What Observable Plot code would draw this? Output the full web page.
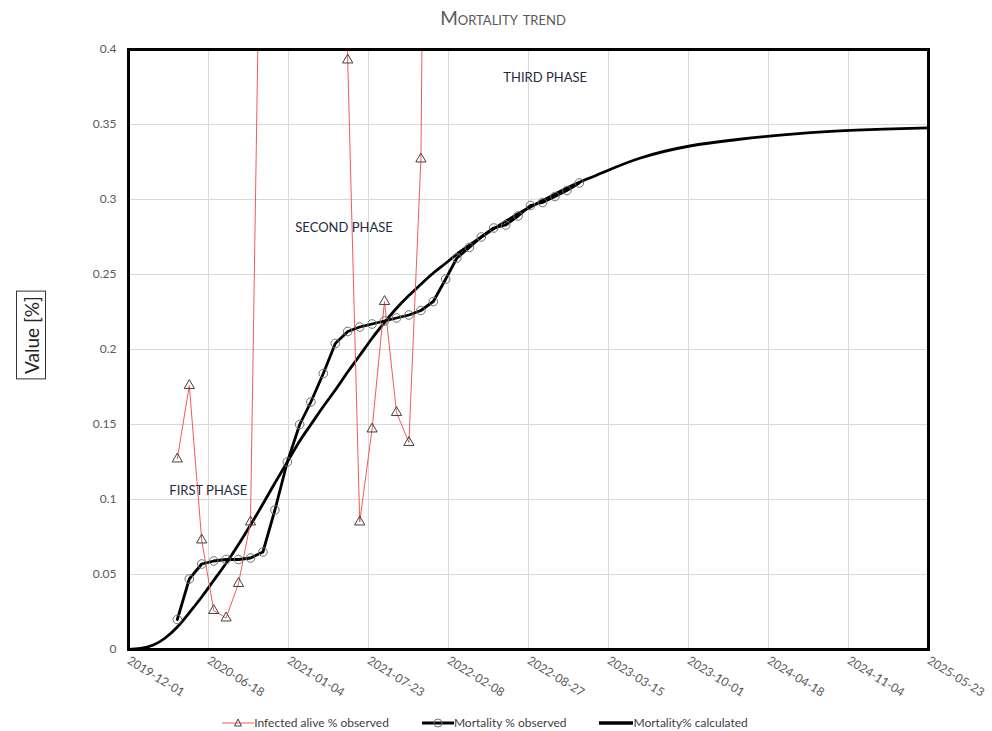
<!DOCTYPE html>
<html><head><meta charset="utf-8">
<script src="https://cdn.jsdelivr.net/npm/d3@7"></script>
<script src="https://cdn.jsdelivr.net/npm/@observablehq/plot@0.6"></script>
<style>
body{margin:0;background:#fff;font-family:Lato,"Open Sans",sans-serif;}
#wrap{width:992px;height:731px;position:relative;overflow:hidden;background:#fff}
#title{height:36px;line-height:36px;text-align:center;font-variant:small-caps;font-size:19px;color:#595959;padding-left:14px}
#chart svg{display:block}
#legend{position:absolute;left:0;top:715px;width:970px;display:flex;justify-content:center;gap:33px;font-size:12px;color:#404040}
#legend .it{display:flex;align-items:center}
#legend svg{display:block}
</style></head><body>
<div id="wrap"><div id="title">Mortality trend</div><div id="chart"></div><div id="legend"></div></div>
<script>
// ---- data ----
const xTickLabels = ["2019-12-01","2020-06-18","2021-01-04","2021-07-23","2022-02-08","2022-08-27","2023-03-15","2023-10-01","2024-04-18","2024-11-04","2025-05-23"];
const yTickValues = [0,0.05,0.1,0.15,0.2,0.25,0.3,0.35,0.4];
const yTickLabels = ["0","0.05","0.1","0.15","0.2","0.25","0.3","0.35","0.4"];

const mortalityDates = ["2020-04-01","2020-05-01","2020-06-01","2020-07-01","2020-08-01","2020-09-01","2020-10-01","2020-11-01","2020-12-01",
  "2021-01-01","2021-02-01","2021-03-01","2021-04-01","2021-05-01","2021-06-01","2021-07-01","2021-08-01","2021-09-01","2021-10-01","2021-11-01","2021-12-01",
  "2022-01-01","2022-02-01","2022-03-01","2022-04-01","2022-05-01","2022-06-01","2022-07-01","2022-08-01","2022-09-01","2022-10-01","2022-11-01","2022-12-01","2023-01-01"];
const mortalityObserved = [0.020,0.047,0.057,0.059,0.060,0.060,0.061,0.065,0.093,
  0.125,0.150,0.165,0.184,0.204,0.212,0.215,0.217,0.219,0.221,0.223,0.226,
  0.232,0.247,0.261,0.268,0.275,0.281,0.283,0.289,0.296,0.298,0.302,0.306,0.311];

const infectedDates = ["2020-04-01","2020-05-01","2020-06-01","2020-07-01","2020-08-01","2020-09-01","2020-10-01","2020-11-01",
  "2021-05-01","2021-06-01","2021-07-01","2021-08-01","2021-09-01","2021-10-01","2021-11-01","2021-12-01","2022-01-01"];
const infectedObserved = [0.127,0.176,0.073,0.026,0.021,0.044,0.085,0.62,
  0.90,0.393,0.085,0.147,0.232,0.158,0.138,0.327,1.20];

const calculatedDates = ["2019-12-01","2019-12-31","2020-02-01","2020-03-01","2020-04-01","2020-05-01","2020-06-01","2020-07-01","2020-08-01",
  "2020-09-01","2020-10-01","2020-11-01","2020-12-01","2021-01-01","2021-02-01","2021-03-01","2021-04-01","2021-05-01","2021-06-01",
  "2021-07-01","2021-08-01","2021-09-01","2021-10-01","2021-11-01","2021-12-01","2022-01-01","2022-02-01","2022-03-01","2022-04-01",
  "2022-05-01","2022-06-01","2022-07-01","2022-08-01","2022-09-01","2022-10-01","2022-11-01","2022-12-01","2023-01-01","2023-03-01",
  "2023-06-01","2023-10-01","2024-02-01","2024-06-01","2024-10-01","2025-02-01","2025-05-23"];
const calculatedValues = [0,0.0007,0.003,0.0075,0.015,0.0245,0.035,0.046,0.0575,
  0.070,0.083,0.097,0.111,0.125,0.139,0.150,0.162,0.173,0.185,
  0.196,0.2075,0.218,0.2275,0.236,0.2435,0.251,0.2575,0.2636,0.2695,
  0.275,0.2805,0.2855,0.2905,0.295,0.2993,0.3035,0.3077,0.3115,0.318,
  0.3275,0.3355,0.340,0.3433,0.3456,0.3469,0.3478];

const phaseLabels = ["FIRST PHASE","SECOND PHASE","THIRD PHASE"];
const phaseDates = ["2020-03-12","2021-01-21","2022-06-25"];
const phaseValues = [0.106,0.281,0.381];

const legendLabels = ["Infected alive % observed","Mortality % observed","Mortality% calculated"];

// ---- tables ----
const P = s => new Date(s);
const mort = mortalityDates.map((d,i)=>({date:P(d), v:mortalityObserved[i]}));
const inf = infectedDates.map((d,i)=>({date:P(d), v:infectedObserved[i]}));
const calc = calculatedDates.map((d,i)=>({date:P(d), v:calculatedValues[i]}));
const phases = phaseLabels.map((t,i)=>({t, date:P(phaseDates[i]), v:phaseValues[i]}));
const xTicks = xTickLabels.map(P);
const fmtX = d3.utcFormat("%Y-%m-%d");

const chart = Plot.plot({
  width: 992, height: 670,
  marginLeft: 128, marginRight: 64, marginTop: 13, marginBottom: 57,
  style: {fontFamily: "Lato, 'Open Sans', sans-serif", fontSize: "12px", background: "#fff"},
  x: {type: "utc", domain: [xTicks[0], xTicks[xTicks.length-1]]},
  y: {domain: [0, 0.4]},
  marks: [
    Plot.gridX(xTicks, {stroke: "#d9d9d9", strokeOpacity: 1}),
    Plot.gridY(yTickValues, {stroke: "#d9d9d9", strokeOpacity: 1}),
    Plot.axisY({ticks: yTickValues, tickFormat: (d,i)=>yTickLabels[i], tickSize: 0, tickPadding: 12, color: "#595959", label: null}),
    Plot.axisX({ticks: xTicks, tickFormat: fmtX, tickSize: 0, tickPadding: 10, tickRotate: 32, textAnchor: "start", color: "#595959", label: null}),
    Plot.line(calc, {x: "date", y: "v", stroke: "black", strokeWidth: 2.8, curve: "natural", clip: true}),
    Plot.line(inf, {x: "date", y: "v", stroke: "#f25a5a", strokeWidth: 1, clip: true}),
    Plot.dot(inf, {x: "date", y: "v", symbol: "triangle", r: 3.8, stroke: "#404040", strokeWidth: 1, fill: "none", clip: true}),
    Plot.line(mort, {x: "date", y: "v", stroke: "black", strokeWidth: 2.8}),
    Plot.dot(mort, {x: "date", y: "v", symbol: "circle", r: 4.3, stroke: "#707070", strokeWidth: 1, fill: "none"}),
    Plot.text(phases, {x: "date", y: "v", text: "t", textAnchor: "start", fontSize: 13, fill: "#1f2a44"}),
    Plot.frame({stroke: "black", strokeWidth: 3})
  ]
});
document.getElementById("chart").appendChild(chart);

// y-axis title with box
const svg = d3.select(chart);
const g = svg.append("g");
const lbl = g.append("text").text("Value [%]")
  .attr("transform", "translate(31,299) rotate(-90)")
  .attr("text-anchor", "middle").attr("dominant-baseline", "central")
  .attr("font-size", 19).attr("fill", "#262626").attr("font-family", "Lato, 'Open Sans', sans-serif");
const bb = lbl.node().getBBox();
g.insert("rect", "text")
  .attr("x", 31 - bb.height/2 - 3).attr("y", 299 - bb.width/2 - 5)
  .attr("width", bb.height + 6).attr("height", bb.width + 10)
  .attr("fill", "none").attr("stroke", "#333").attr("stroke-width", 1);

// legend
const leg = document.getElementById("legend");
const markers = [
  `<svg width="32" height="14"><line x1="0" y1="7" x2="32" y2="7" stroke="#f25a5a" stroke-width="1"/><path d="M16,3 L19.5,10 L12.5,10 Z" fill="none" stroke="#404040"/></svg>`,
  `<svg width="32" height="14"><line x1="0" y1="7" x2="32" y2="7" stroke="black" stroke-width="3"/><circle cx="16" cy="7" r="4" fill="none" stroke="#707070"/></svg>`,
  `<svg width="34" height="14"><line x1="0" y1="7" x2="34" y2="7" stroke="black" stroke-width="3.5"/></svg>`
];
legendLabels.forEach((t,i)=>{
  const d = document.createElement("div"); d.className = "it";
  d.innerHTML = markers[i] + `<span>${t}</span>`;
  leg.appendChild(d);
});
</script>
</body></html>
